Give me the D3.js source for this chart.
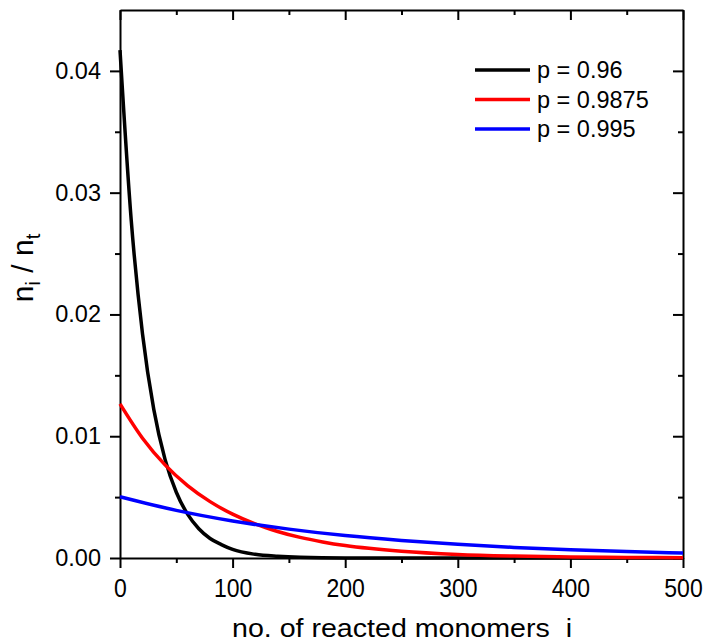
<!DOCTYPE html>
<html>
<head>
<meta charset="utf-8">
<script src="https://cdn.jsdelivr.net/npm/d3@7"></script>
<style>
  body { margin: 0; background: #fff; }
  svg { display: block; font-family: "Liberation Sans", Arial, sans-serif; }
</style>
</head>
<body>
<div id="chart"></div>
<script>
// values
const xBlack = [0, 10, 20, 30, 40, 50, 60, 70, 80, 90, 100, 120, 140, 160, 200, 300, 400, 500];
const yBlack = [0.0417, 0.0277, 0.0184, 0.0122, 0.0081, 0.0054, 0.0036, 0.0024, 0.0016, 0.0011, 0.0007, 0.0003, 0.00014, 0.00006, 0.00001, 0, 0, 0];

const xRed = [0, 20, 40, 60, 80, 100, 120, 140, 160, 180, 200, 250, 300, 350, 400, 450, 500];
const yRed = [0.01266, 0.00984, 0.00765, 0.00595, 0.00463, 0.00360, 0.00280, 0.00218, 0.00169, 0.00132, 0.00102, 0.00055, 0.00029, 0.000155, 0.000083, 0.000044, 0.000024];

const xBlue = [0, 50, 100, 150, 200, 250, 300, 350, 400, 450, 500];
const yBlue = [0.00503, 0.00391, 0.00304, 0.00237, 0.00184, 0.00144, 0.00112, 0.00087, 0.00068, 0.00053, 0.00041];

const seriesNames = ["p = 0.96", "p = 0.9875", "p = 0.995"];
const seriesColors = ["#000000", "#ff0000", "#0000ff"];

const xTicks = [0, 100, 200, 300, 400, 500];
const yTicks = [0, 0.01, 0.02, 0.03, 0.04];

const width = 704, height = 644;
const margin = {left: 120, right: 21, top: 10, bottom: 86};
const font = "Liberation Sans, Arial, sans-serif";

const svg = d3.select("#chart").append("svg")
    .attr("width", width)
    .attr("height", height);

const x = d3.scaleLinear().domain([0, 500]).range([margin.left, width - margin.right]);
const y = d3.scaleLinear().domain([0, 0.045]).range([height - margin.bottom, margin.top]);

const series = [
    {name: seriesNames[0], color: seriesColors[0], pts: xBlack.map((v, i) => [v, yBlack[i]])},
    {name: seriesNames[1], color: seriesColors[1], pts: xRed.map((v, i) => [v, yRed[i]])},
    {name: seriesNames[2], color: seriesColors[2], pts: xBlue.map((v, i) => [v, yBlue[i]])}
];

// minor ticks half-way between majors
const xMinor = d3.range(50, 500, 100);
const yMinor = d3.range(0.005, 0.045, 0.01);

const axisStyle = g => {
    g.select(".domain").attr("stroke", "#000").attr("stroke-width", 2);
    g.selectAll(".tick line").attr("stroke", "#000").attr("stroke-width", 2);
};

// bottom axis
const xAxis = svg.append("g")
    .attr("transform", `translate(0,${y(0)})`)
    .call(d3.axisBottom(x).tickValues(xTicks).tickSize(10).tickSizeOuter(0).tickPadding(9))
    .call(axisStyle);
xAxis.selectAll("text").attr("font-size", 23).attr("fill", "#000").attr("font-family", font)
    .attr("transform", "scale(1,1.1)");
svg.append("g")
    .attr("transform", `translate(0,${y(0)})`)
    .call(d3.axisBottom(x).tickValues(xMinor).tickSize(5).tickFormat(""))
    .call(axisStyle)
    .select(".domain").remove();

// top axis (inward ticks)
svg.append("g")
    .attr("transform", `translate(0,${margin.top})`)
    .call(d3.axisBottom(x).tickValues(xTicks).tickSize(10).tickSizeOuter(0).tickFormat(""))
    .call(axisStyle);
svg.append("g")
    .attr("transform", `translate(0,${margin.top})`)
    .call(d3.axisBottom(x).tickValues(xMinor).tickSize(5).tickFormat(""))
    .call(axisStyle)
    .select(".domain").remove();

// left axis
const yAxis = svg.append("g")
    .attr("transform", `translate(${x(0)},0)`)
    .call(d3.axisLeft(y).tickValues(yTicks).tickSize(10).tickSizeOuter(0).tickPadding(9).tickFormat(d3.format(".2f")))
    .call(axisStyle);
yAxis.selectAll("text").attr("font-size", 23.5).attr("fill", "#000").attr("font-family", font);
svg.append("g")
    .attr("transform", `translate(${x(0)},0)`)
    .call(d3.axisLeft(y).tickValues(yMinor).tickSize(5).tickFormat(""))
    .call(axisStyle)
    .select(".domain").remove();

// right axis (inward ticks)
svg.append("g")
    .attr("transform", `translate(${x(500)},0)`)
    .call(d3.axisLeft(y).tickValues(yTicks).tickSize(10).tickSizeOuter(0).tickFormat(""))
    .call(axisStyle);
svg.append("g")
    .attr("transform", `translate(${x(500)},0)`)
    .call(d3.axisLeft(y).tickValues(yMinor).tickSize(5).tickFormat(""))
    .call(axisStyle)
    .select(".domain").remove();

// curves
const line = d3.line()
    .x(d => x(d[0]))
    .y(d => y(d[1]))
    .curve(d3.curveMonotoneX);

svg.append("g")
    .selectAll("path")
    .data(series)
    .join("path")
    .attr("fill", "none")
    .attr("stroke", d => d.color)
    .attr("stroke-width", 3.5)
    .attr("d", d => line(d.pts));

// legend
const legend = svg.append("g")
    .selectAll("g")
    .data(series)
    .join("g")
    .attr("transform", (d, i) => `translate(475, ${70 + i * 29.5})`);

legend.append("line")
    .attr("x1", 0).attr("x2", 55)
    .attr("stroke", d => d.color)
    .attr("stroke-width", 3.5);

legend.append("text")
    .attr("x", 62)
    .attr("dy", "0.36em")
    .attr("font-size", 23.5)
    .text(d => d.name);

// axis titles
svg.append("text")
    .attr("x", 232)
    .attr("y", 637)
    .attr("font-size", 25)
    .attr("textLength", 340)
    .attr("lengthAdjust", "spacingAndGlyphs")
    .text("no. of reacted monomers\u00a0\u00a0i");

const yTitle = svg.append("text")
    .attr("transform", `translate(33, 268) rotate(-90)`)
    .attr("text-anchor", "middle")
    .attr("font-size", 30);
yTitle.append("tspan").text("n");
yTitle.append("tspan").attr("font-size", 20).attr("dy", 7).text("i");
yTitle.append("tspan").attr("dy", -7).text(" / n");
yTitle.append("tspan").attr("font-size", 20).attr("dy", 7).text("t");
</script>
</body>
</html>
